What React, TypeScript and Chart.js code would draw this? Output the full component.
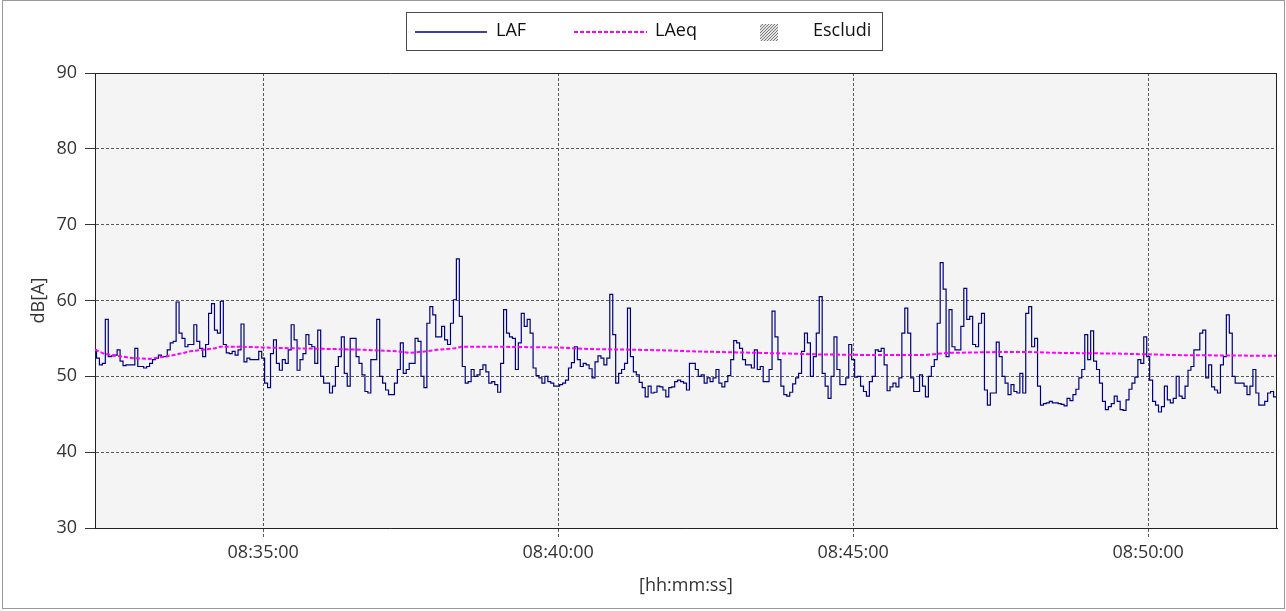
import { useEffect, useRef } from 'react';
import { Chart, registerables } from 'chart.js';

Chart.register(...registerables);

// Times are seconds after 08:32:00
const baseHour = 8;
const baseMinute = 32;
const xMinSec = 9;
const xMaxSec = 1211;
const xTickSec = [180, 480, 780, 1080];
const yMin = 30;
const yMax = 90;
const yStep = 10;

const seriesLabels = ['LAF', 'LAeq', 'Escludi'];
const xTitle = '[hh:mm:ss]';
const yTitle = 'dB[A]';

// LAF sampled every 3 s starting at 08:32:09
const lafStartSec = 9;
const lafStepSec = 3;
const lafValues = [
  53.5, 52.4, 51.5, 51.7, 57.5, 52.6, 52.7, 52.8, 53.5, 52.0, 51.4, 51.5, 51.5, 51.5, 53.7, 51.3, 51.3, 51.1, 51.3, 51.7,
  52.2, 52.4, 52.8, 52.6, 52.6, 53.5, 54.4, 54.6, 59.8, 55.7, 55.0, 53.9, 54.2, 54.2, 56.8, 54.6, 53.7, 52.6, 54.2, 58.3, 59.6,
  56.1, 55.7, 59.9, 54.2, 53.1, 53.0, 53.3, 52.8, 53.5, 56.9, 51.9, 52.4, 52.2, 52.2, 52.2, 53.3, 52.4, 49.1, 48.5, 53.0,
  54.8, 51.7, 50.8, 52.2, 51.7, 53.5, 56.8, 54.8, 50.8, 52.2, 53.0, 55.5, 54.2, 53.9, 51.7, 56.1, 50.0, 49.1, 49.1, 47.8, 48.7,
  51.3, 52.6, 55.2, 50.4, 48.7, 55.0, 55.0, 52.6, 51.7, 50.2, 48.0, 47.8, 52.2, 52.2, 57.5, 50.0, 49.1, 48.2, 47.6, 47.6,
  49.1, 50.9, 54.4, 50.4, 50.9, 51.7, 51.7, 55.0, 54.6, 50.0, 48.5, 57.0, 59.2, 58.1, 55.2, 55.2, 56.6, 54.8, 54.2, 57.0,
  60.1, 65.5, 57.9, 51.3, 49.1, 49.3, 50.9, 50.0, 50.2, 50.9, 51.5, 50.6, 49.1, 49.3, 48.9, 47.9, 51.7, 58.8, 55.7, 55.2,
  55.0, 50.9, 54.4, 58.3, 56.6, 57.5, 55.7, 51.1, 50.1, 49.8, 49.1, 50.0, 49.3, 49.1, 48.7, 48.7, 48.9, 49.1, 49.5, 51.1, 51.8,
  53.9, 52.2, 51.3, 51.7, 51.5, 51.0, 49.8, 51.9, 52.7, 52.4, 51.5, 52.4, 60.8, 55.5, 49.1, 50.4, 50.9, 51.7, 59.0, 52.6,
  50.6, 50.2, 49.2, 48.5, 47.3, 48.7, 47.8, 47.9, 48.7, 48.6, 48.2, 47.3, 48.5, 48.6, 49.3, 49.5, 49.3, 49.1, 48.2, 51.7,
  51.7, 50.9, 50.0, 50.2, 49.1, 49.8, 49.3, 49.8, 50.9, 49.1, 48.6, 49.3, 50.1, 52.2, 54.7, 54.4, 53.7, 52.2, 51.5, 51.5,
  51.1, 53.5, 50.9, 51.3, 49.3, 49.3, 50.9, 58.6, 55.2, 52.2, 48.7, 47.6, 47.4, 47.9, 49.0, 49.8, 50.4, 53.3, 55.7, 54.4, 50.0,
  52.6, 55.7, 60.5, 50.4, 48.7, 47.1, 50.0, 55.2, 50.9, 48.9, 48.9, 49.8, 54.2, 52.2, 49.9, 50.0, 48.7, 48.0, 47.4, 49.3,
  50.0, 53.5, 53.3, 53.7, 51.5, 48.1, 48.6, 49.1, 48.6, 49.8, 55.7, 59.0, 55.7, 49.8, 48.0, 48.0, 50.2, 48.7, 47.3, 50.0, 51.3,
  52.2, 57.0, 65.0, 61.5, 52.6, 58.8, 53.9, 53.5, 53.5, 56.6, 61.6, 57.5, 57.9, 54.2, 53.9, 57.0, 58.3, 48.2, 46.2, 47.8,
  47.8, 54.5, 52.6, 50.0, 49.1, 47.6, 48.9, 48.0, 47.8, 50.4, 47.8, 58.3, 59.2, 53.9, 55.0, 48.7, 46.2, 46.4, 46.5, 46.7,
  46.5, 46.5, 46.4, 46.3, 46.1, 47.1, 46.8, 47.6, 48.3, 49.8, 50.9, 55.5, 52.2, 56.0, 52.0, 50.9, 49.1, 46.7, 45.6, 46.0,
  46.4, 47.4, 46.7, 45.6, 45.5, 46.9, 48.3, 49.1, 49.9, 52.2, 51.7, 55.2, 52.6, 49.5, 46.7, 46.2, 45.3, 46.0, 48.7, 46.9,
  46.5, 47.1, 50.0, 47.4, 47.1, 48.7, 50.8, 51.3, 53.5, 53.5, 55.7, 56.1, 49.8, 51.5, 48.6, 48.2, 47.8, 51.5, 52.6, 58.1,
  55.7, 50.0, 49.1, 49.1, 49.1, 48.7, 47.6, 48.7, 50.9, 47.8, 46.2, 46.2, 46.7, 47.8, 48.0, 47.3, 47.3,
];

// LAeq (running equivalent level)
const laeqTimes = [9, 18, 31, 48, 65, 79, 89, 106, 119, 131, 136, 160, 180, 211, 253, 282, 316, 329, 346, 357, 375, 382, 420, 480, 512, 560, 594, 614, 648, 682, 716, 741, 804, 853, 868, 879, 926, 960, 985, 1048, 1080, 1110, 1211];
const laeqValues = [53.5, 53.0, 52.7, 52.4, 52.3, 52.6, 52.8, 53.3, 53.5, 53.7, 53.9, 53.9, 53.8, 53.7, 53.6, 53.5, 53.3, 53.1, 53.3, 53.5, 53.7, 53.9, 53.9, 53.8, 53.6, 53.5, 53.4, 53.3, 53.2, 53.1, 53.0, 52.9, 52.8, 52.8, 53.0, 53.1, 53.2, 53.2, 53.1, 53.0, 52.9, 52.8, 52.7];

const lafColor = '#000080';
const laeqColor = '#ff00ff';
const textColor = '#333333';
const FONT = { family: "'Open Sans', sans-serif", size: 18 };

const pad2 = (n: number) => String(n).padStart(2, '0');
const formatTime = (v: number) => {
  const total = baseHour * 3600 + baseMinute * 60 + Math.round(v);
  const h = Math.floor(total / 3600);
  const m = Math.floor((total % 3600) / 60);
  const s = total % 60;
  return `${pad2(h)}:${pad2(m)}:${pad2(s)}`;
};

const backgroundPlugin = {
  id: 'bgPlugin',
  beforeDraw(chart: any) {
    const { ctx, chartArea, width, height } = chart;
    ctx.save();
    ctx.fillStyle = '#ffffff';
    ctx.fillRect(0, 0, width, height);
    ctx.fillStyle = '#f4f4f4';
    ctx.fillRect(chartArea.left, chartArea.top, chartArea.right - chartArea.left, chartArea.bottom - chartArea.top);
    ctx.restore();
  },
};

const framePlugin = {
  id: 'framePlugin',
  afterDatasetsDraw(chart: any) {
    const { ctx, chartArea } = chart;
    ctx.save();
    ctx.strokeStyle = '#222222';
    ctx.lineWidth = 1;
    ctx.beginPath();
    ctx.moveTo(chartArea.left + 0.5, chartArea.top + 0.5);
    ctx.lineTo(chartArea.right - 0.5, chartArea.top + 0.5);
    ctx.lineTo(chartArea.right - 0.5, chartArea.bottom + 0.5);
    ctx.stroke();
    ctx.restore();
  },
  afterDraw(chart: any) {
    const { ctx, width, height } = chart;
    ctx.save();
    ctx.strokeStyle = '#9a9a9a';
    ctx.lineWidth = 1;
    ctx.strokeRect(2.5, 0.5, width - 4, height - 3);
    ctx.restore();
  },
};

const legendPlugin = {
  id: 'customLegend',
  afterDraw(chart: any) {
    const { ctx } = chart;
    ctx.save();
    ctx.fillStyle = '#ffffff';
    ctx.fillRect(406, 12, 477, 39);
    ctx.strokeStyle = '#4a4a4a';
    ctx.lineWidth = 1;
    ctx.strokeRect(406.5, 12.5, 476, 38);
    const cy = 32;
    // LAF sample
    ctx.strokeStyle = lafColor;
    ctx.lineWidth = 1.5;
    ctx.beginPath();
    ctx.moveTo(415, cy);
    ctx.lineTo(487, cy);
    ctx.stroke();
    // LAeq sample
    ctx.strokeStyle = laeqColor;
    ctx.lineWidth = 2;
    ctx.setLineDash([4, 2]);
    ctx.beginPath();
    ctx.moveTo(574, cy);
    ctx.lineTo(647, cy);
    ctx.stroke();
    ctx.setLineDash([]);
    // Escludi hatched box
    const bx = 760, by = 24, bw = 18, bh = 17;
    ctx.fillStyle = '#e4e4e4';
    ctx.fillRect(bx, by, bw, bh);
    ctx.save();
    ctx.beginPath();
    ctx.rect(bx, by, bw, bh);
    ctx.clip();
    ctx.strokeStyle = '#7a7a7a';
    ctx.lineWidth = 1;
    for (let k = -bh; k < bw + bh; k += 3) {
      ctx.beginPath();
      ctx.moveTo(bx + k, by + bh);
      ctx.lineTo(bx + k + bh, by);
      ctx.stroke();
    }
    ctx.restore();
    ctx.fillStyle = '#111111';
    ctx.font = `${FONT.size}px ${FONT.family}`;
    ctx.textBaseline = 'middle';
    ctx.textAlign = 'left';
    ctx.fillText(seriesLabels[0], 496, cy - 1);
    ctx.fillText(seriesLabels[1], 655, cy - 1);
    ctx.fillText(seriesLabels[2], 813, cy - 1);
    ctx.restore();
  },
};

export default function App() {
  const canvasRef = useRef<HTMLCanvasElement | null>(null);

  useEffect(() => {
    const canvas = canvasRef.current;
    if (!canvas) return;
    const lafData = lafValues.map((v, i) => ({ x: lafStartSec + i * lafStepSec, y: v }));
    const laeqData = laeqTimes.map((t, i) => ({ x: t, y: laeqValues[i] }));

    const chart = new Chart(canvas, {
      type: 'line',
      data: {
        datasets: [
          {
            label: seriesLabels[1],
            data: laeqData,
            borderColor: laeqColor,
            borderWidth: 2,
            borderDash: [4, 2],
            pointRadius: 0,
            fill: false,
            tension: 0,
            order: 1,
          },
          {
            label: seriesLabels[0],
            data: lafData,
            borderColor: lafColor,
            borderWidth: 1.2,
            stepped: 'middle',
            pointRadius: 0,
            fill: false,
            tension: 0,
            order: 2,
          },
        ],
      },
      options: {
        animation: false,
        responsive: false,
        maintainAspectRatio: false,
        layout: { padding: { top: 73, right: 9, left: 0, bottom: 0 } },
        plugins: { legend: { display: false }, tooltip: { enabled: false } },
        scales: {
          x: {
            type: 'linear',
            min: xMinSec,
            max: xMaxSec,
            afterBuildTicks: (scale: any) => {
              scale.ticks = xTickSec.map((v) => ({ value: v }));
            },
            afterFit: (scale: any) => {
              scale.height = 83;
            },
            ticks: {
              callback: (v: any) => formatTime(Number(v)),
              color: textColor,
              font: FONT,
              padding: 4,
              maxRotation: 0,
              autoSkip: false,
            },
            grid: {
              color: '#5a5a5a',
              lineWidth: 1,
              tickLength: 10,
              tickColor: '#5a5a5a',
              tickBorderDash: [3, 2],
            },
            border: { display: true, color: '#222222', width: 1, dash: [3, 2] },
            title: { display: true, text: xTitle, color: textColor, font: FONT, padding: { top: 0, bottom: 14 } },
          },
          y: {
            type: 'linear',
            min: yMin,
            max: yMax,
            afterFit: (scale: any) => {
              scale.width = 95;
            },
            ticks: { stepSize: yStep, color: textColor, font: FONT, padding: 8 },
            grid: { color: '#5a5a5a', lineWidth: 1, tickLength: 10, tickColor: '#333333' },
            border: { display: true, color: '#222222', width: 1, dash: [3, 2] },
            title: { display: true, text: yTitle, color: textColor, font: FONT, padding: { top: 28, bottom: 0 } },
          },
        },
      } as any,
      plugins: [backgroundPlugin, framePlugin, legendPlugin],
    });
    return () => chart.destroy();
  }, []);

  return (
    <div style={{ position: 'absolute', left: 0, top: 0, width: 1286, height: 611 }}>
      <canvas ref={canvasRef} width={1286} height={611} style={{ display: 'block', width: 1286, height: 611 }} />
    </div>
  );
}
